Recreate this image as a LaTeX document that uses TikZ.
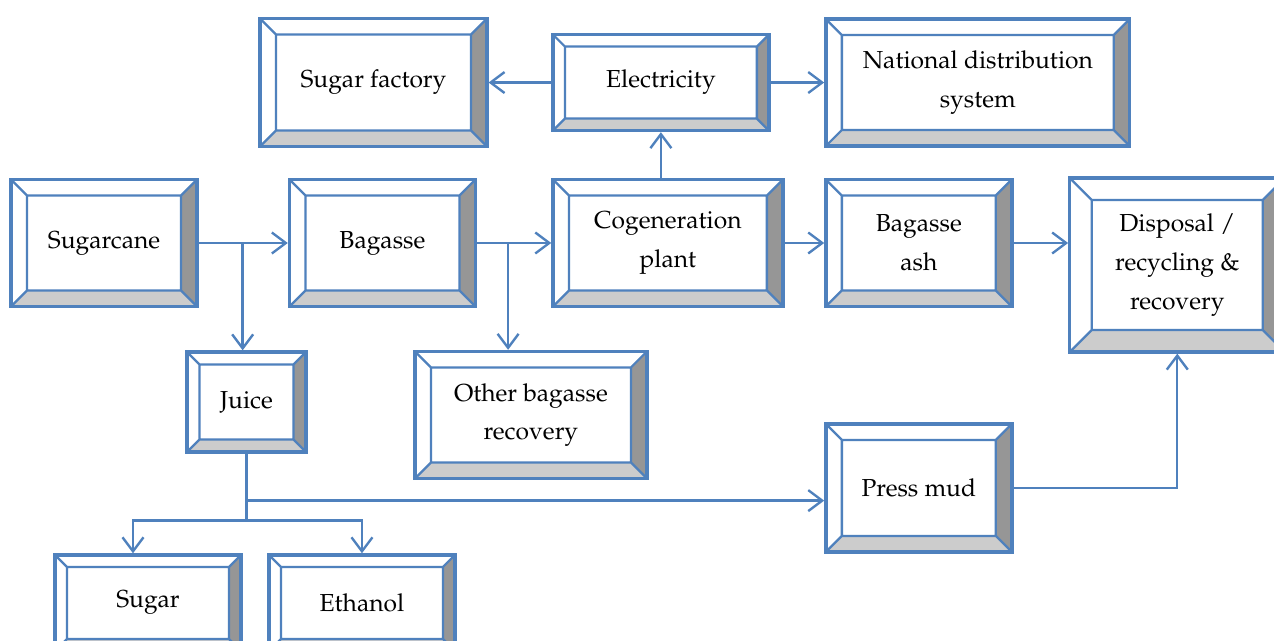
\documentclass[tikz,border=0pt]{standalone}
\usepackage[T1]{fontenc}
\usepackage{mathpazo}
\usetikzlibrary{positioning,arrows.meta}

\definecolor{boxblue}{HTML}{4F81BD}
\definecolor{bevdark}{HTML}{969696}
\definecolor{bevlight}{HTML}{CCCCCC}

% bevel faces of a box, #1 = bevel width
\newcommand{\bevelpic}[1]{%
  \path (path picture bounding box.south west) coordinate (o1)
        (path picture bounding box.north east) coordinate (o2)
        ([shift={(#1,#1)}]path picture bounding box.south west) coordinate (i1)
        ([shift={(-#1,-#1)}]path picture bounding box.north east) coordinate (i2);
  \fill[bevdark] (o2) -- (o2 |- o1) -- (i2 |- i1) -- (i2) -- cycle;
  \fill[bevlight] (o1) -- (o2 |- o1) -- (i2 |- i1) -- (i1) -- cycle;
  \draw[boxblue, line width=1.3pt] (i1) rectangle (i2)
    (o1) -- (i1) (o2) -- (i2) (o1 |- o2) -- (i1 |- i2) (o2 |- o1) -- (i2 |- i1);
}

\begin{document}
\begin{tikzpicture}[x=0.02cm, y=-0.02cm, node distance=5cm, on grid,
    box/.style={draw=boxblue, line width=1.9pt, fill=white, align=center,
      inner sep=0pt, minimum width=3.72cm, minimum height=2.54cm,
      font=\fontsize{14}{22}\selectfont, path picture={\bevelpic{#1}}},
    box/.default=0.32cm,
    flow/.style={draw=boxblue, line width=1.35pt,
      -{Straight Barb[length=2.8mm,width=4.2mm]}}]
    \useasboundingbox (0,0) rectangle (1274,641);

    % main line
    \node[box] (cane) at (104,243) {Sugarcane};
    \node[box, right=5.57cm of cane] (bag) {Bagasse};
    \node[box, right=5.71cm of bag, minimum width=4.6cm] (cogen) {Cogeneration\\plant};
    \node[box, right=5.02cm of cogen] (ash) {Bagasse\\ash};
    \node[box=0.44cm, below right=0.44cm and 5.17cm of ash,
          minimum width=4.3cm, minimum height=3.48cm] (disp) {Disposal /\\recycling \&\\recovery};

    % electricity
    \node[box=0.24cm, above left=3.21cm and 0.14cm of cogen,
          minimum width=4.32cm, minimum height=1.92cm] (elec) {Electricity};
    \node[box, left=5.75cm of elec, minimum width=4.54cm, minimum height=2.56cm] (factory) {Sugar factory};
    \node[box, right=6.34cm of elec, minimum width=6.08cm] (nat) {National distribution\\system};

    % juice side
    \node[box=0.25cm, below right=3.18cm and 2.85cm of cane,
          minimum width=2.38cm, minimum height=2cm] (juice) {Juice};
    \node[box, below right=3.44cm and 2.97cm of bag, minimum width=4.64cm] (other) {Other bagasse\\recovery};
    \node[box, below=4.9cm of ash, minimum height=2.56cm] (press) {Press mud};
    \node[box=0.24cm, below left=4.02cm and 1.97cm of juice, minimum height=1.92cm] (sugar) {Sugar};
    \node[box=0.24cm, right=4.28cm of sugar, minimum height=1.92cm] (ethanol) {Ethanol};

    \coordinate[right=0.88cm of cane.east] (cj);
    \coordinate[right=0.62cm of bag.east] (bj);
    \coordinate[below=0.94cm of juice.south] (jm);
    \coordinate[below=1.34cm of juice.south] (js);

    \draw[flow] (cane) -- (bag);
    \draw[flow] (cj) -- (cj |- juice.north);
    \draw[flow] (bag) -- (cogen);
    \draw[flow] (bj) -- (bj |- other.north);
    \draw[flow] (cogen.north -| elec) -- (elec);
    \draw[flow] (elec) -- (factory);
    \draw[flow] (elec) -- (nat);
    \draw[flow] (cogen) -- (ash);
    \draw[flow] (ash.east) -- (ash.east -| disp.west);
    \draw[draw=boxblue, line width=1.35pt] (juice) -- (js);
    \draw[flow] (js) -| ([xshift=-0.3cm]sugar.north);
    \draw[flow] (js) -| (ethanol);
    \draw[flow] (jm) -- (jm -| press.west);
    \draw[flow] (press) -| (disp);
\end{tikzpicture}
\end{document}
